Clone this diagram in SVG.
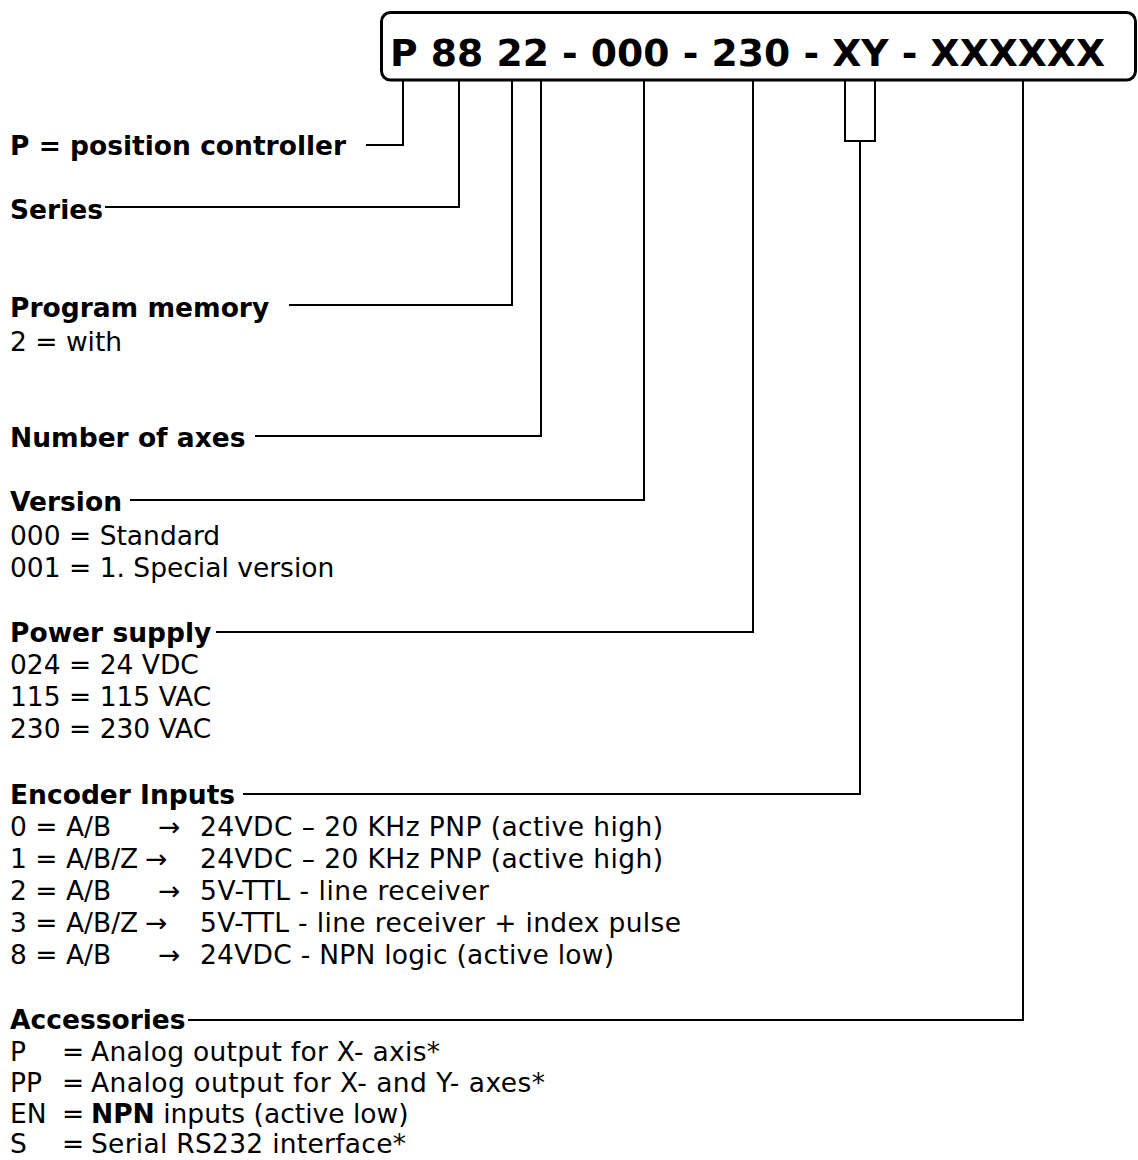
<svg xmlns="http://www.w3.org/2000/svg" width="1138" height="1160" viewBox="0 0 1138 1160">
<style>
text{font-family:"DejaVu Sans",Verdana,sans-serif;font-size:26.5px;fill:#000}
.b{font-weight:bold}
.title{font-weight:bold;font-size:37.7px}
.c{fill:none;stroke:#000;stroke-width:2}
</style>
<rect width="1138" height="1160" fill="#fff"/>
<g id="code">
<rect x="381.5" y="12.5" width="754" height="67.5" rx="9" fill="#fff" stroke="#000" stroke-width="3"/>
<text class="title" x="390" y="66" textLength="715" lengthAdjust="spacing">P 88 22 - 000 - 230 - XY - XXXXXX</text>
</g>
<g id="connectors">
<polyline class="c" points="366,145 403,145 403,80"/>
<polyline class="c" points="105,207 459,207 459,80"/>
<polyline class="c" points="289,305 512,305 512,80"/>
<polyline class="c" points="255,436 541,436 541,80"/>
<polyline class="c" points="130,500 644,500 644,80"/>
<polyline class="c" points="216,632 753,632 753,80"/>
<rect class="c" x="845" y="80" width="30" height="61"/>
<polyline class="c" points="243,794 860,794 860,141"/>
<polyline class="c" points="188,1020 1023,1020 1023,80"/>
</g>
<g id="type">
<text class="b" x="10" y="155">P = position controller</text>
</g>
<g id="series">
<text class="b" x="10" y="219">Series</text>
</g>
<g id="program-memory">
<text class="b" x="10" y="317">Program memory</text>
<text x="10" y="351">2 = with</text>
</g>
<g id="axes">
<text class="b" x="10" y="447">Number of axes</text>
</g>
<g id="version">
<text class="b" x="10" y="511">Version</text>
<text x="10" y="545">000 = Standard</text>
<text x="10" y="577">001 = 1. Special version</text>
</g>
<g id="power-supply">
<text class="b" x="10" y="642">Power supply</text>
<text x="10" y="674">024 = 24 VDC</text>
<text x="10" y="706">115 = 115 VAC</text>
<text x="10" y="738">230 = 230 VAC</text>
</g>
<g id="encoder-inputs">
<text class="b" x="10" y="804">Encoder Inputs</text>
<text y="836"><tspan x="10">0 = A/B</tspan><tspan x="158">→</tspan><tspan x="200" textLength="463" lengthAdjust="spacing">24VDC – 20 KHz PNP (active high)</tspan></text>
<text y="868"><tspan x="10">1 = A/B/Z</tspan><tspan x="145">→</tspan><tspan x="200" textLength="463" lengthAdjust="spacing">24VDC – 20 KHz PNP (active high)</tspan></text>
<text y="900"><tspan x="10">2 = A/B</tspan><tspan x="158">→</tspan><tspan x="200" textLength="289" lengthAdjust="spacing">5V-TTL - line receiver</tspan></text>
<text y="932"><tspan x="10">3 = A/B/Z</tspan><tspan x="145">→</tspan><tspan x="200" textLength="481" lengthAdjust="spacing">5V-TTL - line receiver + index pulse</tspan></text>
<text y="964"><tspan x="10">8 = A/B</tspan><tspan x="158">→</tspan><tspan x="200" textLength="414" lengthAdjust="spacing">24VDC - NPN logic (active low)</tspan></text>
</g>
<g id="accessories">
<text class="b" x="10" y="1029">Accessories</text>
<text y="1061"><tspan x="10">P</tspan><tspan x="62">=</tspan><tspan x="91" textLength="349" lengthAdjust="spacing">Analog output for X- axis*</tspan></text>
<text y="1092"><tspan x="10">PP</tspan><tspan x="62">=</tspan><tspan x="91" textLength="454" lengthAdjust="spacing">Analog output for X- and Y- axes*</tspan></text>
<text y="1123"><tspan x="10">EN</tspan><tspan x="62">=</tspan><tspan x="91" class="b">NPN</tspan><tspan> inputs (active low)</tspan></text>
<text y="1153"><tspan x="10">S</tspan><tspan x="62">=</tspan><tspan x="91" textLength="315" lengthAdjust="spacing">Serial RS232 interface*</tspan></text>
</g>
</svg>
